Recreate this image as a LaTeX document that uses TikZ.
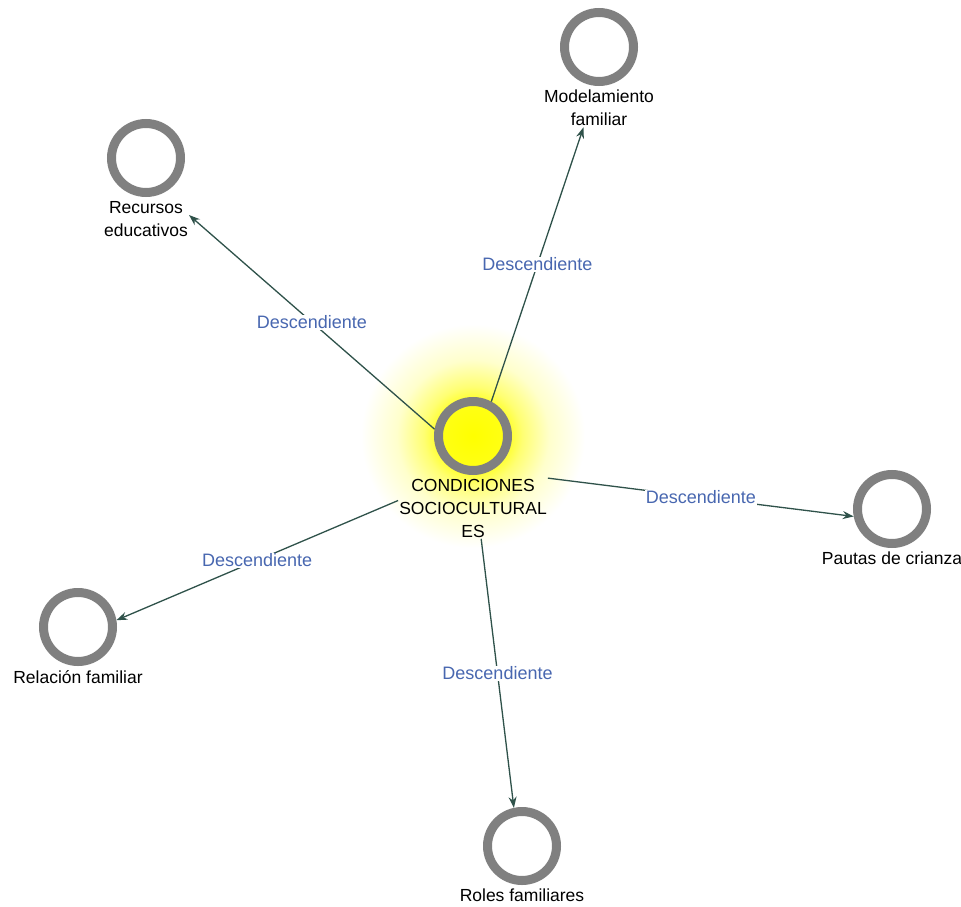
\documentclass[tikz,border=0pt]{standalone}
\usepackage{fontspec}
\setmainfont{Liberation Sans}
\usetikzlibrary{positioning,arrows.meta}
\definecolor{ringgray}{RGB}{128,128,128}
\definecolor{edgegreen}{RGB}{47,82,74}
\definecolor{relblue}{RGB}{72,103,176}
\pgfdeclareradialshading{glow}{\pgfpoint{0bp}{0bp}}{color(0bp)=(yellow); color(7bp)=(yellow!92!white); color(11bp)=(yellow!55!white); color(17bp)=(yellow!20!white); color(25bp)=(white); color(50bp)=(white)}

\begin{document}
\begin{tikzpicture}[x=1pt,y=-1pt,
  code/.style={circle,draw=ringgray,line width=9pt,minimum size=69pt,inner sep=0pt},
  codetxt/.style={align=center,inner sep=1pt,font=\fontsize{17.5}{23}\selectfont},
  rel/.style={draw=edgegreen,line width=1.3pt,-{Stealth[length=11pt,width=8pt]}},
  reltxt/.style={fill=white,inner sep=1pt,text=relblue,font=\fontsize{18}{21}\selectfont}]
\fill[white] (0,0) rectangle (961,907);
\useasboundingbox (0,0) rectangle (961,907);
\shade[shading=glow] (473,436) circle (112pt);

\node[code] (cond) at (473,436) {};
\node[codetxt,below=3pt of cond] (condtxt) {CONDICIONES\\SOCIOCULTURAL\\ES};
\node[code] (model) at (599,47) {};
\node[codetxt,below=3pt of model] (modeltxt) {Modelamiento\\familiar};
\node[code] (recur) at (146,158) {};
\node[codetxt,below=3pt of recur] (recurtxt) {Recursos\\educativos};
\node[code] (pautas) at (892,509) {};
\node[codetxt,below=3pt of pautas] (pautastxt) {Pautas de crianza};
\node[code] (relac) at (78,627) {};
\node[codetxt,below=3pt of relac] (relactxt) {Relación familiar};
\node[code] (roles) at (522,846) {};
\node[codetxt,below=3pt of roles] (rolestxt) {Roles familiares};

\draw[rel] (cond.62) -- node[reltxt] {Descendiente} (modeltxt.231);
\draw[rel] (cond.170) -- node[reltxt] {Descendiente} (recurtxt.5);
\draw[rel] (condtxt.22) -- node[reltxt] {Descendiente} (pautas.191);
\draw[rel] (condtxt.174) -- node[reltxt] {Descendiente} (relac.10);
\draw[rel] (condtxt.285) -- node[reltxt] {Descendiente} (roles.102);
\end{tikzpicture}
\end{document}
